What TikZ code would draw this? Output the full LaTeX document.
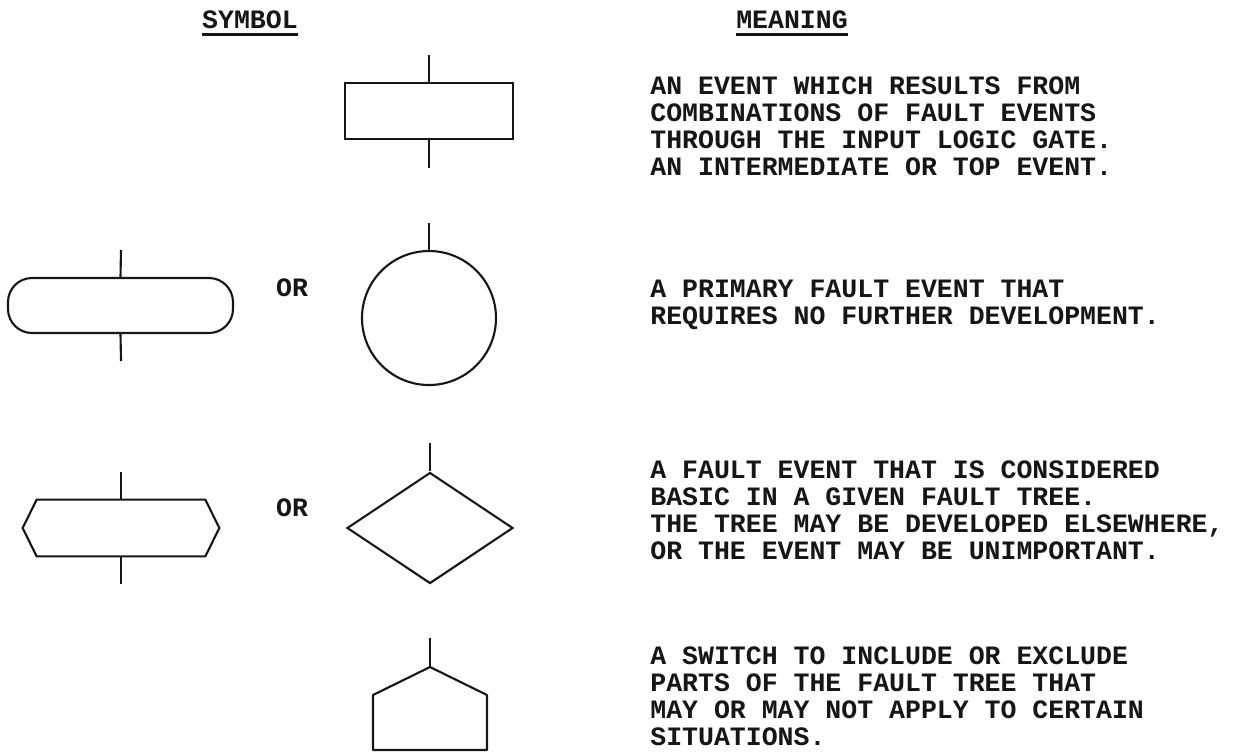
\documentclass[tikz,border=0pt]{standalone}
\usepackage{fontspec}
\newfontfamily\typewr{Liberation Mono}
\usetikzlibrary{positioning,shapes.geometric}
\definecolor{ftink}{HTML}{161616}
\tikzset{
  sym/.style     ={draw=ftink, line width=1.2pt, inner sep=0pt},
  gatebox/.style ={sym, minimum width=3.36cm, minimum height=1.12cm},
  primbox/.style ={sym, rounded corners=0.48cm, minimum width=4.5cm,
                   minimum height=1.1cm},
  primcirc/.style={sym, circle, minimum size=2.68cm},
  basicbox/.style={inner sep=0pt, minimum width=3.92cm, minimum height=1.12cm},
  basicdia/.style={sym, diamond, minimum width=3.32cm, minimum height=2.22cm},
  stem/.style    ={draw=ftink, line width=1.2pt},
  head/.style    ={font=\typewr\bfseries\fontsize{15.1}{15.4}\selectfont,
                   text=ftink, inner sep=0pt},
  uline/.style   ={draw=ftink, line width=1.5pt},
  meaning/.style ={head, anchor=north west, align=left},
}

\begin{document}
\begin{tikzpicture}
  \useasboundingbox[fill=white] (0,0) rectangle (24.68,-15.06);

  % ---- column heads -------------------------------------------------------
  \node[head] (symhead) at (5.00,-0.40) {SYMBOL};
  \node[head] (meanhead) at (15.84,-0.40) {MEANING};
  \draw[uline] ([yshift=-0.1cm]symhead.south west)
    -- ([yshift=-0.1cm]symhead.south east);
  \draw[uline] ([yshift=-0.1cm]meanhead.south west)
    -- ([yshift=-0.1cm]meanhead.south east);

  % ---- intermediate event -------------------------------------------------
  \node[gatebox] (gate) at (8.58,-2.22) {};
  \coordinate (gatein) at (8.58,-1.10);
  \coordinate (gateout) at (8.58,-3.36);
  \draw[stem] (gatein) -- (gate.north);
  \draw[stem] (gate.south) -- (gateout);
  \node[meaning] (gatetext) at (13.00,-1.52)
    {AN EVENT WHICH RESULTS FROM\\COMBINATIONS OF FAULT EVENTS\\%
     THROUGH THE INPUT LOGIC GATE.\\AN INTERMEDIATE OR TOP EVENT.};

  % ---- primary event ------------------------------------------------------
  \node[primbox] (prim) at (2.41,-6.11) {};
  \coordinate (primin) at (2.42,-5.00);
  \coordinate (primout) at (2.42,-7.22);
  \draw[stem] (primin) -- (prim.north);
  \draw[stem] (prim.south) -- (primout);
  \node[head] (or1) at (5.84,-5.76) {OR};
  \node[primcirc] (primc) at (8.58,-6.36) {};
  \coordinate (primcin) at (8.58,-4.46);
  \draw[stem] (primcin) -- (primc.north);
  \node[meaning] (primtext) at (13.00,-5.60)
    {A PRIMARY FAULT EVENT THAT\\REQUIRES NO FURTHER DEVELOPMENT.};

  % ---- undeveloped event --------------------------------------------------
  \node[basicbox] (basic) at (2.42,-10.56) {};
  \draw[stem] ([xshift=0.28cm]basic.north west)
    -- ([xshift=-0.28cm]basic.north east) -- (basic.east)
    -- ([xshift=-0.28cm]basic.south east)
    -- ([xshift=0.28cm]basic.south west) -- (basic.west) -- cycle;
  \coordinate (basicin) at (2.42,-9.44);
  \coordinate (basicout) at (2.42,-11.68);
  \draw[stem] (basicin) -- (basic.north);
  \draw[stem] (basic.south) -- (basicout);
  \node[head] (or2) at (5.84,-10.16) {OR};
  \node[basicdia] (basicd) at (8.60,-10.56) {};
  \coordinate (basicdin) at (8.60,-8.86);
  \draw[stem] (basicdin) -- (basicd.north);
  \node[meaning] (basictext) at (13.00,-9.20)
    {A FAULT EVENT THAT IS CONSIDERED\\BASIC IN A GIVEN FAULT TREE.\\%
     THE TREE MAY BE DEVELOPED ELSEWHERE,\\OR THE EVENT MAY BE UNIMPORTANT.};

  % ---- house event --------------------------------------------------------
  \coordinate (housein) at (8.60,-12.76);
  \coordinate (roof) at (8.60,-13.34);
  \coordinate (eavel) at (7.46,-13.90);
  \coordinate (eaver) at (9.74,-13.90);
  \draw[stem] (housein) -- (roof);
  \draw[stem, line join=round] (roof) -- (eavel) -- (7.46,-15.00)
    -- (9.74,-15.00) -- (eaver) -- cycle;
  \node[meaning] (housetext) at (13.00,-12.92)
    {A SWITCH TO INCLUDE OR EXCLUDE\\PARTS OF THE FAULT TREE THAT\\%
     MAY OR MAY NOT APPLY TO CERTAIN\\SITUATIONS.};
\end{tikzpicture}
\end{document}
